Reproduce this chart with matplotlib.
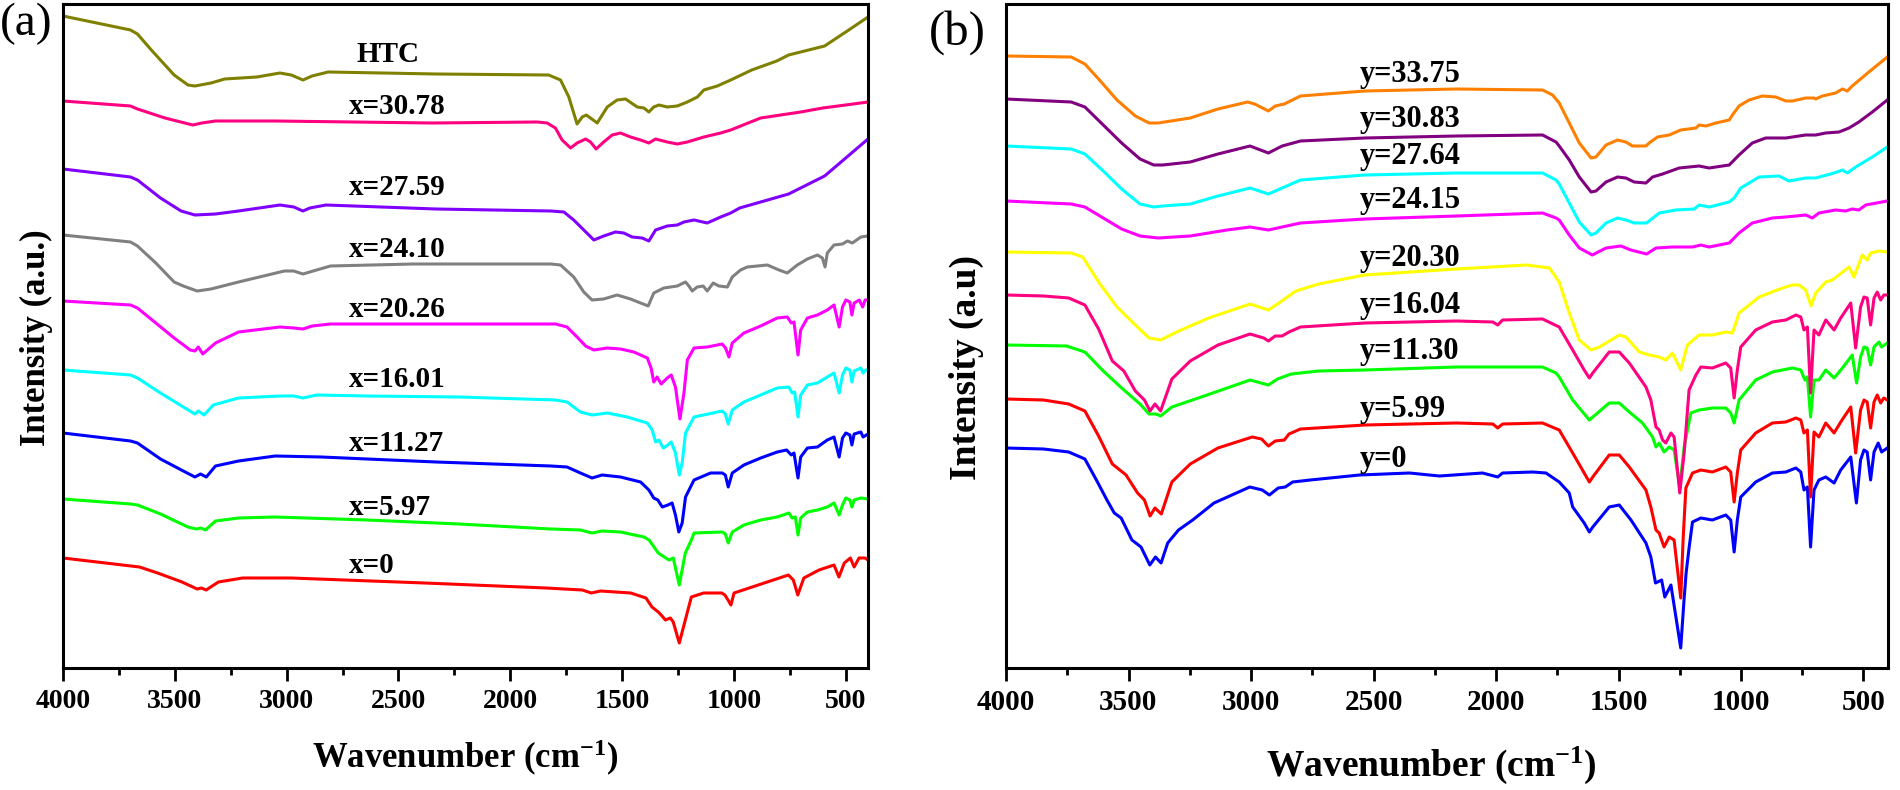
import matplotlib
matplotlib.use("Agg")
import matplotlib.pyplot as plt
import numpy as np
from matplotlib.ticker import MultipleLocator

plt.rcParams["font.family"] = ["Liberation Serif", "DejaVu Serif"]
plt.rcParams["font.weight"] = "bold"
plt.rcParams["mathtext.fontset"] = "custom"
plt.rcParams["mathtext.rm"] = "Liberation Serif:bold"
plt.rcParams["mathtext.it"] = "Liberation Serif:bold"
plt.rcParams["mathtext.bf"] = "Liberation Serif:bold"

# ---------------- data: (wavenumber cm-1, intensity a.u.) ----------------
# Panel (a)
a_htc = [(4000,652),(3698,638),(3667,634),(3605,618),(3503,593),(3441,583),(3410,582),(3338,585),
         (3277,589),(3133,591),(3030,595),(2979,593),(2927,588),(2886,592),(2814,596),(2331,594),
         (1828,593),(1775,588),(1738,571),(1701,544),(1678,551),(1660,553),(1641,550),(1611,545),
         (1566,561),(1522,568),(1484,569),(1432,561),(1402,560),(1380,556),(1358,561),(1335,563),
         (1298,561),(1253,562),(1208,566),(1163,571),(1134,578),(1074,582),(1014,588),(920,598),
         (808,607),(755,613),(594,622),(486,638),(400,651)]
a_3078 = [(4000,567),(3698,562),(3667,559),(3544,550),(3420,543),(3379,545),(3318,547),(3051,547),
          (2352,545),(1879,546),(1835,545),(1798,540),(1768,528),(1730,520),(1701,525),(1663,529),
          (1641,526),(1616,519),(1582,526),(1544,533),(1507,535),(1462,531),(1417,528),(1380,525),
          (1350,529),(1298,526),(1253,524),(1208,526),(1134,531),(1059,535),(1014,538),(880,550),
          (701,556),(603,560),(500,563),(400,566)]
a_2759 = [(4000,499),(3698,491),(3667,488),(3564,470),(3472,457),(3410,453),(3318,454),(3215,457),
          (3030,463),(2968,461),(2927,457),(2896,460),(2824,463),(2331,459),(1818,457),(1760,456),
          (1716,448),(1671,438),(1626,428),(1582,432),(1529,436),(1492,435),(1455,431),(1410,430),
          (1380,427),(1350,438),(1298,442),(1253,443),(1223,446),(1178,448),(1119,445),(1059,451),
          (1014,455),(974,460),(755,474),(594,492),(400,529)]
a_2410 = [(4000,433),(3698,426),(3667,422),(3585,405),(3503,386),(3462,382),(3400,377),(3338,379),
          (3215,386),(3010,397),(2968,397),(2927,394),(2866,398),(2804,402),(2434,404),(1818,404),
          (1775,403),(1716,391),(1671,376),(1634,368),(1582,369),(1522,373),(1462,369),(1417,365),
          (1383,362),(1358,375),(1313,380),(1253,382),(1216,386),(1201,382),(1186,377),(1164,381),
          (1137,382),(1119,377),(1092,385),(1067,382),(1029,381),(1007,391),(970,398),(940,401),
          (850,403),(798,398),(761,395),(716,403),(671,409),(626,413),(604,410),(592,401),(582,415),
          (552,423),(514,424),(492,427),(470,425),(432,431),(402,432)]
a_2026 = [(4000,367),(3698,363),(3667,360),(3585,345),(3503,330),(3431,318),(3410,317),(3395,321),
          (3375,314),(3318,325),(3215,336),(3030,341),(2968,340),(2927,339),(2886,342),(2804,344),
          (2229,344),(1797,344),(1746,341),(1701,331),(1663,322),(1626,318),(1566,320),(1507,319),
          (1447,316),(1387,310),(1370,300),(1358,286),(1343,291),(1325,284),(1298,290),(1280,293),
          (1261,281),(1241,249),(1223,275),(1208,308),(1178,320),(1119,321),(1052,324),(1037,320),
          (1022,311),(1007,325),(955,335),(880,342),(806,350),(761,351),(743,345),(731,346),
          (713,313),(701,338),(671,350),(626,353),(582,358),(552,363),(529,341),(514,361),(499,368),
          (481,366),(472,353),(462,365),(439,368),(424,361),(413,368),(400,368)]
a_1601 = [(4000,298),(3698,293),(3667,290),(3564,275),(3462,261),(3410,254),(3395,257),(3369,253),
          (3328,263),(3215,270),(3030,272),(2968,272),(2927,270),(2866,273),(2640,272),(2229,271),
          (1797,268),(1746,266),(1686,256),(1634,253),(1566,255),(1477,251),(1387,245),(1365,238),
          (1350,226),(1335,228),(1316,220),(1295,223),(1280,226),(1261,215),(1244,193),(1231,205),
          (1216,235),(1178,251),(1052,257),(1038,254),(1025,244),(1007,258),(955,266),(880,273),
          (806,280),(754,281),(739,275),(728,276),(713,251),(701,273),(671,283),(626,285),(582,291),
          (552,295),(529,275),(514,293),(499,300),(481,298),(472,286),(462,297),(432,300),(422,295),
          (410,298),(400,298)]
a_1127 = [(4000,235),(3698,227),(3667,225),(3564,209),(3462,197),(3410,191),(3385,194),(3359,191),
          (3318,202),(3215,207),(3051,212),(2845,211),(2331,206),(1818,202),(1746,201),(1686,195),
          (1634,190),(1589,193),(1507,191),(1417,186),(1380,178),(1358,170),(1340,168),(1320,161),
          (1295,163),(1276,165),(1261,153),(1246,136),(1231,145),(1216,171),(1178,188),(1104,195),
          (1052,195),(1038,193),(1025,181),(1007,195),(955,203),(880,210),(806,216),(764,218),
          (743,213),(731,215),(713,190),(701,211),(671,220),(626,221),(582,228),(552,231),(529,211),
          (514,230),(499,235),(481,233),(472,223),(462,234),(432,236),(422,231),(400,234)]
a_597 = [(4000,169),(3698,164),(3667,163),(3564,154),(3441,141),(3404,139),(3383,140),(3363,138),
         (3318,147),(3215,150),(3051,151),(2640,148),(2229,144),(1818,139),(1686,138),(1634,135),
         (1589,137),(1507,136),(1402,131),(1379,128),(1338,115),(1311,111),(1290,108),(1271,110),
         (1244,83),(1217,115),(1190,128),(1178,135),(1052,136),(1038,134),(1025,125),(1007,136),
         (955,143),(880,148),(806,151),(754,155),(739,150),(725,151),(713,133),(701,150),(671,156),
         (626,158),(582,161),(552,165),(529,153),(514,163),(499,170),(481,168),(472,161),(462,168),
         (432,170),(400,169)]
a_0 = [(4000,110),(3658,101),(3577,95),(3468,86),(3400,79),(3381,80),(3360,78),(3305,86),(3197,90),
       (2980,90),(2383,85),(1840,80),(1678,78),(1637,75),(1596,77),(1461,75),(1393,70),(1366,61),
       (1338,56),(1325,53),(1306,48),(1284,50),(1271,46),(1244,25),(1217,48),(1190,71),(1135,75),
       (1054,75),(1040,73),(1026,68),(1013,63),(999,75),(891,83),(756,93),(734,88),(714,73),
       (687,90),(619,98),(552,103),(530,91),(506,105),(479,110),(462,101),(440,110),(413,110),
       (400,108)]

# Panel (b)
b_3375 = [(4000,612),(3734,611),(3678,604),(3622,589),(3547,568),(3472,552),(3416,545),(3379,545),
          (3248,550),(3135,559),(3014,566),(2985,564),(2929,557),(2901,562),(2864,564),(2798,572),
          (2536,577),(2162,579),(1810,578),(1769,573),(1742,565),(1701,545),(1660,525),(1612,510),
          (1592,511),(1551,523),(1504,528),(1470,526),(1443,522),(1388,522),(1375,525),(1341,531),
          (1293,533),(1246,538),(1184,540),(1171,543),(1143,542),(1103,545),(1048,548),(1035,553),
          (1008,562),(967,568),(913,572),(858,571),(817,567),(790,567),(736,570),(702,570),(695,569),
          (668,572),(614,575),(586,579),(566,577),(546,582),(478,596),(403,611)]
b_3083 = [(4000,569),(3734,566),(3678,561),(3603,543),(3528,525),(3453,509),(3397,503),(3360,503),
          (3248,506),(3135,514),(3004,522),(2929,515),(2873,522),(2798,527),(2536,530),(2162,532),
          (1810,533),(1755,526),(1742,522),(1701,508),(1660,491),(1612,476),(1592,477),(1551,486),
          (1504,491),(1470,490),(1436,486),(1388,485),(1361,491),(1320,494),(1252,500),(1171,502),
          (1130,500),(1048,503),(1008,513),(954,525),(899,530),(817,530),(736,533),(695,533),
          (654,535),(600,536),(559,540),(519,546),(464,556),(403,568)]
b_2764 = [(4000,522),(3734,519),(3678,514),(3603,497),(3528,479),(3453,464),(3397,461),(3360,462),
          (3248,464),(3135,472),(3004,480),(2929,474),(2873,480),(2798,488),(2536,493),(2162,495),
          (1810,495),(1755,488),(1742,484),(1701,465),(1660,446),(1612,433),(1592,435),(1551,445),
          (1504,450),(1470,448),(1436,445),(1385,445),(1334,455),(1266,458),(1191,459),(1171,463),
          (1130,461),(1048,466),(1028,470),(1001,480),(926,491),(845,492),(804,487),(736,490),
          (695,490),(620,495),(586,498),(566,495),(532,501),(464,511),(403,521)]
b_2415 = [(4000,467),(3734,464),(3678,461),(3603,450),(3528,439),(3453,432),(3379,430),(3248,432),
          (3098,438),(3004,441),(2929,438),(2873,441),(2798,445),(2536,449),(2162,452),(1810,455),
          (1755,450),(1742,448),(1701,433),(1660,420),(1607,413),(1551,420),(1490,422),(1450,418),
          (1385,414),(1347,420),(1280,421),(1198,421),(1164,423),(1130,421),(1048,425),(1008,435),
          (954,445),(872,450),(817,451),(736,453),(709,450),(682,455),(614,458),(573,457),(546,459),
          (519,458),(491,463),(403,467)]
b_2030 = [(4000,416),(3734,415),(3687,411),(3622,386),(3547,361),(3472,343),(3416,330),(3369,328),
          (3304,336),(3173,350),(3004,364),(2929,358),(2892,364),(2817,377),(2724,384),(2536,393),
          (2162,399),(1877,403),(1782,400),(1742,386),(1701,355),(1660,328),(1612,318),(1578,321),
          (1497,333),(1470,331),(1415,316),(1375,313),(1334,311),(1307,308),(1280,315),(1246,298),
          (1219,323),(1171,333),(1117,333),(1062,336),(1035,335),(1008,355),(926,371),(831,380),
          (790,383),(763,383),(736,378),(714,362),(695,375),(654,386),(627,388),(559,401),(539,391),
          (505,413),(485,408),(471,415),(437,417),(403,416)]
b_1604 = [(4000,373),(3847,372),(3744,370),(3678,363),(3622,339),(3566,307),(3519,297),(3472,277),
          (3435,268),(3412,257),(3392,264),(3369,257),(3323,289),(3248,307),(3135,323),(3004,334),
          (2948,330),(2929,327),(2901,332),(2873,332),(2845,336),(2798,341),(2536,345),(2162,347),
          (2013,346),(1993,343),(1973,348),(1810,349),(1742,341),(1687,318),(1640,298),(1619,290),
          (1605,295),(1538,316),(1497,316),(1456,305),(1388,281),(1368,268),(1347,241),(1334,238),
          (1320,228),(1307,225),(1286,235),(1273,231),(1250,175),(1232,215),(1212,278),(1184,293),
          (1164,301),(1117,300),(1062,305),(1042,300),(1028,270),(1015,298),(1001,321),(940,338),
          (872,346),(817,348),(776,353),(756,351),(743,338),(729,341),(716,275),(702,338),(682,333),
          (654,348),(620,338),(593,350),(552,365),(532,320),(512,361),(498,371),(485,370),(471,343),
          (457,370),(444,376),(430,368),(417,373),(403,373)]
b_1130 = [(4000,323),(3753,322),(3678,316),(3603,297),(3528,280),(3453,264),(3416,254),(3388,254),
          (3369,252),(3323,261),(3191,272),(3004,288),(2929,283),(2892,289),(2836,294),(2724,297),
          (2536,298),(2162,301),(1810,301),(1755,295),(1742,291),(1687,268),(1619,248),(1538,265),
          (1497,265),(1456,256),(1402,245),(1361,231),(1347,221),(1334,225),(1314,216),(1293,221),
          (1273,218),(1250,181),(1232,221),(1205,255),(1171,258),(1117,260),(1062,260),(1042,255),
          (1028,245),(1008,268),(940,288),(872,296),(790,300),(756,298),(739,288),(729,291),
          (716,251),(702,288),(682,288),(654,298),(620,290),(586,300),(546,313),(528,285),(512,311),
          (498,321),(485,320),(471,303),(457,321),(437,326),(426,321),(403,325)]
b_599 = [(4000,269),(3847,268),(3744,264),(3678,257),(3622,232),(3566,204),(3510,193),(3463,175),
         (3435,168),(3412,152),(3392,160),(3366,154),(3323,186),(3248,204),(3135,220),(2995,231),
         (2957,229),(2929,222),(2901,227),(2864,228),(2845,234),(2798,239),(2536,243),(2162,245),
         (2013,244),(1993,240),(1973,244),(1810,245),(1742,238),(1687,215),(1640,195),(1619,186),
         (1605,191),(1538,213),(1497,213),(1456,201),(1388,178),(1368,161),(1347,138),(1334,135),
         (1314,121),(1293,131),(1273,128),(1246,70),(1236,130),(1225,180),(1198,195),(1164,198),
         (1117,196),(1062,201),(1042,196),(1028,166),(1015,195),(1001,218),(940,235),(872,245),
         (817,246),(776,250),(756,248),(743,235),(729,238),(716,171),(702,236),(682,231),(654,245),
         (620,235),(593,246),(552,261),(532,215),(512,258),(498,268),(485,266),(471,240),(457,266),
         (444,273),(430,265),(417,270),(403,268)]
b_0 = [(4000,220),(3847,219),(3744,216),(3678,209),(3631,188),(3588,168),(3558,155),(3530,150),
       (3486,128),(3449,121),(3413,103),(3390,111),(3367,105),(3340,125),(3296,138),(3238,148),
       (3151,165),(3005,181),(2954,178),(2925,173),(2889,180),(2860,181),(2830,186),(2758,188),
       (2557,193),(2353,195),(2231,192),(2055,195),(1993,191),(1973,195),(1850,196),(1796,195),
       (1742,186),(1701,175),(1687,161),(1640,145),(1619,136),(1605,141),(1538,161),(1497,163),
       (1449,148),(1388,125),(1368,111),(1349,85),(1324,88),(1311,71),(1286,83),(1246,20),
       (1232,70),(1224,95),(1212,120),(1198,146),(1164,150),(1117,148),(1062,153),(1042,148),
       (1028,116),(1015,148),(1001,171),(940,186),(872,195),(817,196),(776,200),(756,196),
       (743,178),(729,181),(716,121),(702,178),(682,188),(654,191),(620,185),(593,198),(552,211),
       (529,165),(512,208),(498,218),(485,216),(471,188),(457,216),(440,225),(426,216),(403,220)]

a_series = [a_htc, a_3078, a_2759, a_2410, a_2026, a_1601, a_1127, a_597, a_0]
a_labels = ["HTC", "x=30.78", "x=27.59", "x=24.10", "x=20.26", "x=16.01", "x=11.27", "x=5.97", "x=0"]
a_colors = ["#808000", "#FF0080", "#8000FF", "#808080", "#FF00FF", "#00FFFF", "#0000FF", "#00FF00", "#FF0000"]
a_label_wn = [2688, 2720, 2720, 2720, 2720, 2720, 2720, 2720, 2720]
a_label_i = [606, 554, 473, 411, 351, 281, 217, 153, 95]

b_series = [b_3375, b_3083, b_2764, b_2415, b_2030, b_1604, b_1130, b_599, b_0]
b_labels = ["y=33.75", "y=30.83", "y=27.64", "y=24.15", "y=20.30", "y=16.04", "y=11.30", "y=5.99", "y=0"]
b_colors = ["#FF8000", "#800080", "#00FFFF", "#FF00FF", "#FFFF00", "#FF0080", "#00FF00", "#FF0000", "#0000FF"]
b_label_wn = [2557] * 9
b_label_i = [586, 541, 504, 460, 402, 355, 309, 251, 201]

x_ticks = [4000, 3500, 3000, 2500, 2000, 1500, 1000, 500]

# ---------------- figure ----------------
W, H = 1900, 790
fig = plt.figure(figsize=(W / 100, H / 100), dpi=100)
axa = fig.add_axes([63 / W, 1 - 668 / H, 805 / W, 664 / H])
axb = fig.add_axes([1006 / W, 1 - 668 / H, 882 / W, 664 / H])


def style(ax, tick_size):
    ax.set_xlim(4000, 400)
    ax.set_ylim(0, 664)
    ax.set_xticks(x_ticks)
    ax.set_xticklabels([str(t) for t in x_ticks])
    ax.xaxis.set_minor_locator(MultipleLocator(250))
    ax.tick_params(axis="x", which="major", direction="out", length=9, width=2,
                   labelsize=tick_size, pad=6, top=False)
    ax.tick_params(axis="x", which="minor", direction="out", length=5, width=2, top=False)
    ax.tick_params(axis="y", which="both", left=False, right=False, labelleft=False)
    for s in ax.spines.values():
        s.set_linewidth(2.2)


def draw(ax, series, colors, labels, lwn, li, fs):
    for data, c in reversed(list(zip(series, colors))):
        arr = np.array(data, dtype=float)
        ax.plot(arr[:, 0], arr[:, 1], color=c, lw=2.2, solid_joinstyle="round")
    for lab, xw, yi in zip(labels, lwn, li):
        ax.text(xw, yi, lab, fontsize=fs, fontweight="bold", ha="left", va="baseline", color="black")


style(axa, 20)
style(axb, 21)
draw(axa, a_series, a_colors, a_labels, a_label_wn, a_label_i, 21)
draw(axb, b_series, b_colors, b_labels, b_label_wn, b_label_i, 22)

axa.set_xlabel("Wavenumber (cm$^{-1}$)", fontsize=25, fontweight="bold")
axa.xaxis.set_label_coords(0.5, -0.105)
axb.set_xlabel("Wavenumber (cm$^{-1}$)", fontsize=27, fontweight="bold")
axb.xaxis.set_label_coords(0.482, -0.115)

axa.set_ylabel("Intensity (a.u.)", fontsize=25, fontweight="bold")
axa.yaxis.set_label_coords(-0.012, 0.498)
axb.set_ylabel("Intensity (a.u)", fontsize=27, fontweight="bold")
axb.yaxis.set_label_coords(-0.025, 0.453)

fig.text(0 / W, 1 - 3 / H, "(a)", fontsize=34, fontweight="normal", ha="left", va="top")
fig.text(929 / W, 1 - 10 / H, "(b)", fontsize=35, fontweight="normal", ha="left", va="top")

fig.savefig("out.png", dpi=100)
